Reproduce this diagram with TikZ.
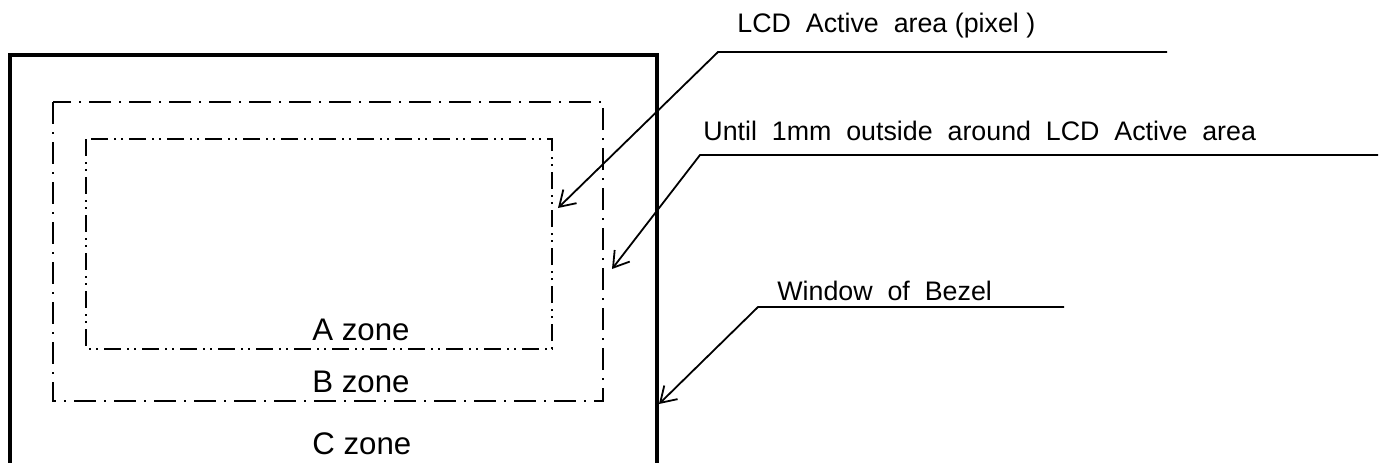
\documentclass[tikz,border=0pt]{standalone}
\usepackage{fontspec}
\setmainfont{Liberation Sans}
\usetikzlibrary{arrows.meta}
\begin{document}
\begin{tikzpicture}[x=0.5pt,y=-0.5pt,
  bezel/.style={line width=2pt},
  zoneB/.style={line width=1.25pt,dash pattern=on 11pt off 4pt on 1pt off 4pt},
  zoneA/.style={line width=0.9pt,dash pattern=on 8.5pt off 3pt on 1pt off 2.5pt on 1pt off 3pt},
  leader/.style={line width=0.9pt,-{Straight Barb[length=7.5pt,width=9.5pt,line width=0.9pt]}},
  callout/.style={anchor=base west,inner sep=0pt,font=\fontsize{13.4}{16}\selectfont},
  zonelabel/.style={anchor=base west,inner sep=0pt,font=\fontsize{15.6}{18}\selectfont}]
\useasboundingbox (0,0) rectangle (1385,462);
\path[fill=white] (0,0) rectangle (1385,462);
% frames
\draw[bezel] (10,464) -- (10,55) -- (657,55) -- (657,464);
\draw[zoneB] (53,102) rectangle (603,401);
\draw[zoneA] (86,139) rectangle (552,349);
% zone labels
\node[zonelabel] (za) at (312,340) {A zone};
\node[zonelabel] (zb) at (312,392) {B zone};
\node[zonelabel] (zc) at (312,454) {C zone};
% callout texts
\node[callout] (l1) at (737,32) {LCD\ \ Active\ \ area (pixel )};
\node[callout] (l2) at (703,140) {Until\ \ 1mm\ \ outside\ \ around\ \ LCD\ \ Active\ \ area};
\node[callout] (l3) at (777,300) {Window\ \ of\ \ Bezel};
% leader geometry
\coordinate (e1) at (1167,52);  \coordinate (k1) at (718,52);  \coordinate (t1) at (558,208);
\coordinate (e2) at (1378,155); \coordinate (k2) at (700,155); \coordinate (t2) at (612,269);
\coordinate (e3) at (1064,307); \coordinate (k3) at (758,307); \coordinate (t3) at (659,404);
\draw[leader] (e1) -- (k1) -- (t1);
\draw[leader] (e2) -- (k2) -- (t2);
\draw[leader] (e3) -- (k3) -- (t3);
\end{tikzpicture}
\end{document}
